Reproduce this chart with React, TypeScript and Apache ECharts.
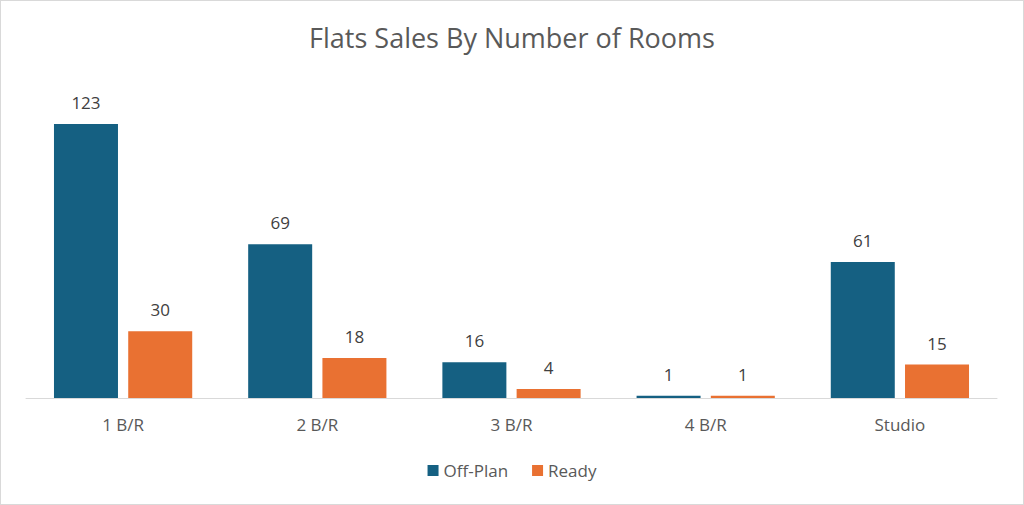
import React, { useEffect, useRef } from "react";
import * as echarts from "echarts";

const categories = ["1 B/R", "2 B/R", "3 B/R", "4 B/R", "Studio"];
const offPlan = [123, 69, 16, 1, 61];
const ready = [30, 18, 4, 1, 15];
const seriesNames = ["Off-Plan", "Ready"];
const titleText = "Flats Sales By Number of Rooms";

export default function App() {
  const ref = useRef<HTMLDivElement>(null);
  useEffect(() => {
    document.body.style.margin = "0";
    const chart = echarts.init(ref.current!, null, { renderer: "svg" });
    const font = "'Open Sans', sans-serif";
    const label = {
      show: true,
      position: "top" as const,
      distance: 13,
      color: "#404040",
      fontSize: 17,
      fontFamily: font,
    };
    chart.setOption({
      animation: false,
      backgroundColor: "#ffffff",
      title: {
        text: titleText,
        left: "center",
        top: 18,
        textStyle: { color: "#595959", fontSize: 27, fontWeight: "normal", fontFamily: font },
      },
      legend: {
        data: seriesNames,
        bottom: 20,
        left: "center",
        itemWidth: 11,
        itemHeight: 11,
        itemGap: 24,
        icon: "rect",
        textStyle: { color: "#595959", fontSize: 17, fontFamily: font },
      },
      grid: { left: 25, right: 26, top: 85, bottom: 106, containLabel: false },
      xAxis: {
        type: "category",
        data: categories,
        axisLine: { lineStyle: { color: "#d9d9d9", width: 1 } },
        axisTick: { show: false },
        axisLabel: { color: "#595959", fontSize: 17, fontFamily: font, margin: 18 },
      },
      yAxis: {
        type: "value",
        min: 0,
        max: 140,
        show: false,
        splitLine: { show: false },
      },
      series: [
        {
          name: seriesNames[0],
          type: "bar",
          data: offPlan,
          barWidth: 64,
          barGap: "16%",
          itemStyle: { color: "#156082" },
          label,
        },
        {
          name: seriesNames[1],
          type: "bar",
          data: ready,
          barWidth: 64,
          barGap: "16%",
          itemStyle: { color: "#E97132" },
          label,
        },
      ],
    });
    return () => chart.dispose();
  }, []);
  return (
    <div
      style={{
        position: "fixed",
        left: 0,
        top: 0,
        width: 1024,
        height: 505,
        boxSizing: "border-box",
        border: "1px solid #d9d9d9",
        background: "#fff",
      }}
    >
      <div ref={ref} style={{ width: 1022, height: 503 }} />
    </div>
  );
}
